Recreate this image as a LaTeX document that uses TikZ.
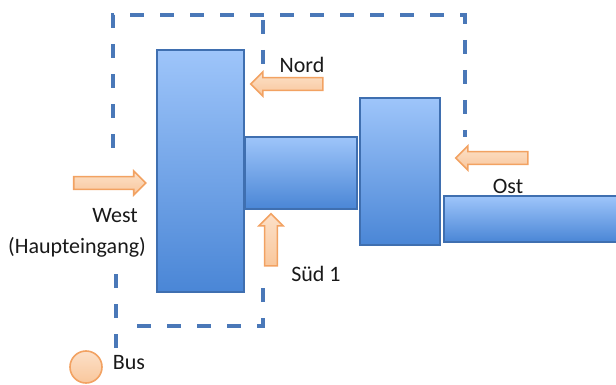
\documentclass[tikz,border=0pt]{standalone}
\usepackage{fontspec}
\setmainfont{Carlito}
\usetikzlibrary{shapes.arrows}
\definecolor{wegblau}{HTML}{4A78B8}
\definecolor{hausrand}{HTML}{3F6FB0}
\definecolor{haushell}{HTML}{9EC5FA}
\definecolor{hausdunkel}{HTML}{4A86D6}
\definecolor{pfeilrand}{HTML}{F2A262}
\definecolor{pfeilhell}{HTML}{FCE0C8}
\definecolor{pfeildunkel}{HTML}{F9C79C}
\tikzset{
  haus/.style={draw=hausrand,line width=0.6pt,top color=haushell,bottom color=hausdunkel},
  weg/.style={draw=wegblau,line width=2.1pt,dash pattern=on 7pt off 8pt},
  pfeil/.style={single arrow,draw=pfeilrand,line width=0.8pt,top color=pfeilhell,bottom color=pfeildunkel,
    inner sep=2.8pt,single arrow head extend=2.8pt,minimum height=36pt},
  beschr/.style={font=\fontsize{11}{13}\selectfont,text=black!90,inner sep=0pt}
}
\begin{document}
\begin{tikzpicture}[x=0.5pt,y=-0.5pt]
   \useasboundingbox (0,0) rectangle (616,385);
   \draw[weg] (113,148) -- (113,15) -- (465,15) -- (465,137);
   \draw[weg] (263,20) -- (263,72);
   \draw[weg] (116,348) -- (116,268);
   \draw[weg] (137,326) -- (263,326) -- (263,287);
   \path[haus] (157,50) rectangle (244,292);
   \path[haus] (245,137) rectangle (357,209);
   \path[haus] (360,98) rectangle (440,245);
   \path[haus] (444,196) rectangle (620,242);
   \node[pfeil] (west) at (106.5,183) {};
   \node[pfeil,rotate=180] (nord) at (290,84) {};
   \node[pfeil,rotate=180] (ost) at (495,158) {};
   \node[pfeil,rotate=90,minimum height=26pt] (sued) at (271,243) {};
   \node[circle,draw=pfeilrand,line width=0.8pt,top color=pfeilhell,bottom color=pfeildunkel,minimum size=16pt,inner sep=0pt] (bus) at (86,367) {};
   \node[beschr] (lnord) at (302,65) {Nord};
   \node[beschr] (lost) at (508,186) {Ost};
   \node[beschr] (lwest) at (115,216) {West};
   \node[beschr] (lhaupt) at (77,247) {(Haupteingang)};
   \node[beschr] (lsued) at (316,274) {Süd 1};
   \node[beschr] (lbus) at (129,363) {Bus};
\end{tikzpicture}
\end{document}
